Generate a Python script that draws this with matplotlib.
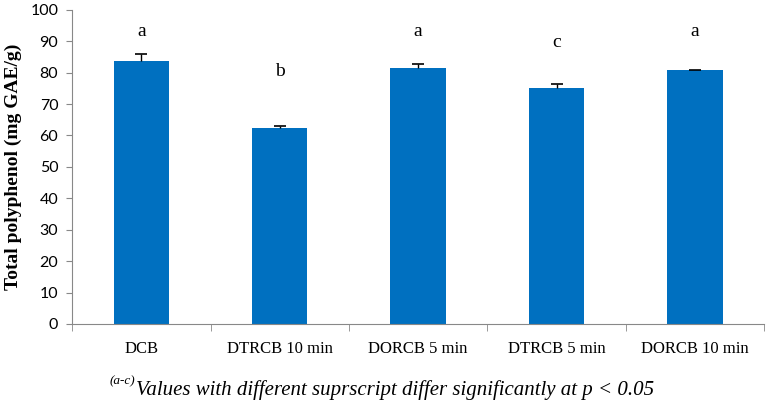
import numpy as np
import matplotlib.pyplot as plt

categories = ['DCB', 'DTRCB 10 min', 'DORCB 5 min', 'DTRCB 5 min', 'DORCB 10 min']
values = [83.8, 62.5, 81.4, 75.0, 80.7]
errors = [2.2, 0.4, 1.3, 1.3, 0.2]
letters = ['a', 'b', 'a', 'c', 'a']
letter_y = [93.0, 80.3, 93.0, 89.5, 93.0]

fig = plt.figure(figsize=(7.68, 4.09), dpi=100)
ax = fig.add_axes([0.094, 0.208, 0.901, 0.768])

x = np.arange(len(categories))
tops = np.array(values) + np.array(errors)
ax.bar(x, values, width=0.4, color='#0070C0', zorder=2)
# only the plus side of the error bar, like Excel
ax.errorbar(x, values, yerr=[np.zeros(len(errors)), errors], fmt='none',
            ecolor='black', elinewidth=1, capsize=0, zorder=3)
ax.plot(x, tops, linestyle='none', marker='_', markersize=8,
        markeredgewidth=1.2, color='black', zorder=3)

for xi, lt, ly in zip(x, letters, letter_y):
    ax.text(xi, ly, lt, ha='center', va='center', fontsize=14,
            family='Liberation Serif')

ax.set_xlim(-0.5, len(categories) - 0.5)
ax.set_ylim(0, 100)
ax.set_yticks(np.arange(0, 101, 10))
ax.set_xticks(x)
ax.set_xticklabels(categories, family='Liberation Serif', fontsize=12)
ax.set_xticks(np.arange(-0.5, len(categories), 1), minor=True)
ax.tick_params(axis='x', which='major', length=0, pad=12)
ax.tick_params(axis='x', which='minor', length=5, color='#888888', direction='out')
ax.tick_params(axis='y', length=4, color='#888888', labelsize=11.5, pad=6)
for lab in ax.get_yticklabels():
    lab.set_family('Lato')

for s in ['top', 'right']:
    ax.spines[s].set_visible(False)
for s in ['left', 'bottom']:
    ax.spines[s].set_color('#888888')

ax.set_ylabel('Total polyphenol (mg GAE/g)', family='Liberation Serif',
              fontweight='bold', fontsize=14, labelpad=6)

# footnote
fig.text(136 / 768, 0.047, 'Values with different suprscript differ significantly at p < 0.05',
         ha='left', va='center', fontsize=15, family='Liberation Serif', style='italic')
fig.text(135 / 768, 0.068, '(a-c)', ha='right', va='center', fontsize=9.5,
         family='Liberation Serif', style='italic')

fig.savefig('out.png', dpi=100)
